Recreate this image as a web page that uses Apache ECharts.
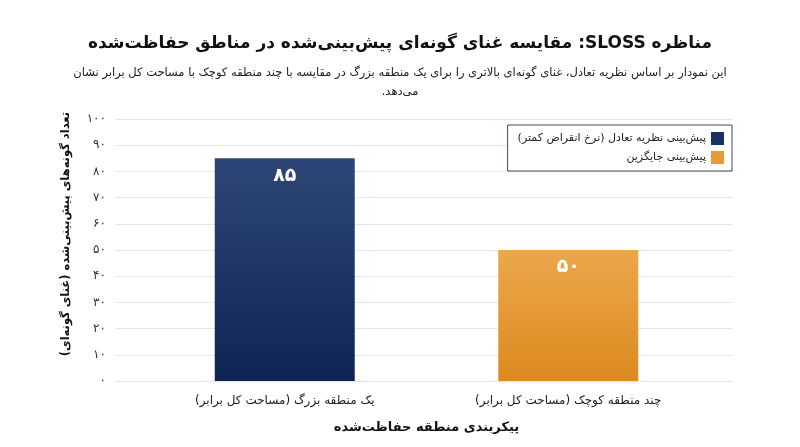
<!DOCTYPE html>
<html lang="fa" dir="rtl">
<head>
<meta charset="utf-8">
<title>SLOSS</title>
<script src="https://cdn.jsdelivr.net/npm/echarts@6/dist/echarts.min.js"></script>
<style>
  html, body { margin: 0; padding: 0; background: #fff; }
  #main { width: 800px; height: 447px; direction: rtl; }
</style>
</head>
<body>
<div id="main"></div>
<script>
// داده‌ها
var categories = ['یک منطقه بزرگ (مساحت کل برابر)', 'چند منطقه کوچک (مساحت کل برابر)'];
var seriesNames = ['پیش‌بینی نظریه تعادل (نرخ انقراض کمتر)', 'پیش‌بینی جایگزین'];
var equilibriumValues = [85, '-'];
var alternativeValues = ['-', 50];
var yTicks = [0, 10, 20, 30, 40, 50, 60, 70, 80, 90, 100];

var FONT = '"DejaVu Sans", sans-serif';

// تبدیل ارقام به فارسی
function faNum(v) {
  return String(v).replace(/\d/g, function (d) { return '۰۱۲۳۴۵۶۷۸۹'[d]; });
}

(function () {
  var myChart = echarts.init(document.getElementById('main'));

  var option = {
    backgroundColor: '#fff',
    textStyle: { fontFamily: FONT },
    title: [
      {
        text: 'مناظره SLOSS: مقایسه غنای گونه‌ای پیش‌بینی‌شده در مناطق حفاظت‌شده',
        left: 'center',
        top: 30,
        textStyle: { fontFamily: FONT, fontSize: 17, fontWeight: 'bold', color: '#111' }
      },
      {
        text: 'این نمودار بر اساس نظریه تعادل، غنای گونه‌ای بالاتری را برای یک منطقه بزرگ در مقایسه با چند منطقه کوچک با مساحت کل برابر نشان',
        left: 'center',
        top: 62,
        textStyle: { fontFamily: FONT, fontSize: 11.5, fontWeight: 'normal', color: '#222' }
      },
      {
        text: 'می‌دهد.',
        left: 'center',
        top: 81,
        textStyle: { fontFamily: FONT, fontSize: 11.5, fontWeight: 'normal', color: '#222' }
      }
    ],
    legend: {
      orient: 'vertical',
      right: 68,
      top: 125,
      align: 'right',
      icon: 'rect',
      itemWidth: 13,
      itemHeight: 13,
      itemGap: 6,
      padding: [7, 8, 7, 10],
      borderColor: '#3c4a66',
      borderWidth: 1,
      backgroundColor: '#fff',
      textStyle: { fontFamily: FONT, fontSize: 11, color: '#222' }
    },
    grid: [
      // شبکه میله‌ها
      { left: 143, right: 90, top: 119, bottom: 66 },
      // شبکه خطوط راهنما (عریض‌تر)
      { left: 115, right: 67, top: 119, bottom: 66 }
    ],
    xAxis: [
      {
        gridIndex: 0,
        type: 'category',
        data: categories,
        axisLine: { show: false },
        axisTick: { show: false },
        axisLabel: { color: '#222', fontSize: 12, fontFamily: FONT, margin: 14 },
        name: 'پیکربندی منطقه حفاظت‌شده',
        nameLocation: 'middle',
        nameGap: 40,
        nameTextStyle: { fontFamily: FONT, fontSize: 13, fontWeight: 'bold', color: '#111' }
      },
      {
        gridIndex: 1,
        type: 'category',
        data: categories,
        show: false
      }
    ],
    yAxis: [
      {
        gridIndex: 0,
        type: 'value',
        min: 0,
        max: 100,
        interval: 10,
        show: false
      },
      {
        gridIndex: 1,
        type: 'value',
        min: yTicks[0],
        max: yTicks[yTicks.length - 1],
        interval: 10,
        axisLine: { show: false },
        axisTick: { show: false },
        axisLabel: {
          color: '#333',
          fontSize: 12,
          fontFamily: FONT,
          margin: 9,
          formatter: function (v) { return faNum(v); }
        },
        splitLine: { lineStyle: { color: '#e6e6e6', width: 1 } },
        name: 'تعداد گونه‌های پیش‌بینی‌شده (غنای گونه‌ای)',
        nameLocation: 'middle',
        nameGap: 43,
        nameRotate: 90,
        nameTextStyle: { fontFamily: FONT, fontSize: 11.5, fontWeight: 'bold', color: '#111', padding: [0, 0, 0, 32] }
      }
    ],
    series: [
      {
        name: seriesNames[0],
        type: 'bar',
        xAxisIndex: 0,
        yAxisIndex: 0,
        barWidth: 140,
        barGap: '-100%',
        data: equilibriumValues,
        itemStyle: {
          color: new echarts.graphic.LinearGradient(0, 0, 0, 1, [
            { offset: 0, color: '#2e4677' },
            { offset: 1, color: '#0e2453' }
          ])
        },
        label: {
          show: true,
          position: 'insideTop',
          distance: 8,
          color: '#fff',
          fontSize: 19,
          fontWeight: 'bold',
          fontFamily: FONT,
          formatter: function (p) { return faNum(p.value); }
        }
      },
      {
        name: seriesNames[1],
        type: 'bar',
        xAxisIndex: 0,
        yAxisIndex: 0,
        barWidth: 140,
        barGap: '-100%',
        data: alternativeValues,
        itemStyle: {
          color: new echarts.graphic.LinearGradient(0, 0, 0, 1, [
            { offset: 0, color: '#eba74b' },
            { offset: 1, color: '#dc8a1e' }
          ])
        },
        label: {
          show: true,
          position: 'insideTop',
          distance: 8,
          color: '#fff',
          fontSize: 19,
          fontWeight: 'bold',
          fontFamily: FONT,
          formatter: function (p) { return faNum(p.value); }
        }
      }
    ]
  };

  // رنگ نشانه‌های راهنما
  option.legend.data = [
    { name: seriesNames[0], itemStyle: { color: '#1b3163' } },
    { name: seriesNames[1], itemStyle: { color: '#e89a34' } }
  ];

  myChart.setOption(option);

  window.addEventListener('resize', function () {
    myChart.resize();
  });
})();
</script>
</body>
</html>
